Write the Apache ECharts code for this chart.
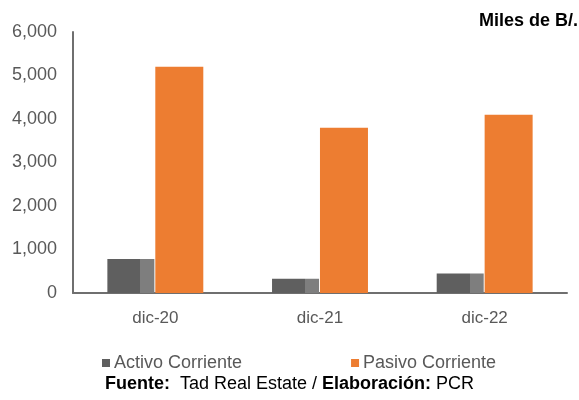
<!DOCTYPE html>
<html><head><meta charset="utf-8">
<script src="https://cdn.jsdelivr.net/npm/echarts@6/dist/echarts.min.js"></script>
<style>html,body{margin:0;padding:0;background:#fff}#c{width:579px;height:400px}</style>
</head><body><div id="c"></div>
<script>
const categories = ['dic-20', 'dic-21', 'dic-22'];
const activoCorriente = [780, 330, 450];
const pasivoCorriente = [5200, 3800, 4100];
const yTicks = [0, 1000, 2000, 3000, 4000, 5000, 6000];

const font = 'Liberation Sans, Arial, sans-serif';
const chart = echarts.init(document.getElementById('c'));
chart.setOption({
  animation: false,
  textStyle: { fontFamily: font },
  title: {
    text: 'Miles de B/.', right: 1, top: 12, padding: 0,
    textStyle: { fontSize: 18, fontWeight: 'bold', color: '#000', fontFamily: font }
  },
  grid: { left: 73, right: 12, top: 32, bottom: 107, containLabel: false },
  legend: {
    left: 97, top: 349, itemWidth: 8, itemHeight: 8, itemGap: 109,
    icon: 'rect',
    textStyle: { fontSize: 18, color: '#595959', fontFamily: font, padding: [0, 0, 0, -1] },
    data: [
      { name: 'Activo Corriente', itemStyle: { color: '#5f5f5f' } },
      { name: 'Pasivo Corriente', itemStyle: { color: '#ED7D31' } }
    ]
  },
  xAxis: {
    type: 'category', data: categories,
    axisLine: { lineStyle: { color: '#6f6f6f', width: 2 } },
    axisTick: { show: false },
    axisLabel: { fontSize: 17, color: '#595959', margin: 17, fontFamily: font }
  },
  yAxis: {
    type: 'value', min: yTicks[0], max: yTicks[yTicks.length - 1], interval: 1000,
    axisLine: { show: true, lineStyle: { color: '#6f6f6f', width: 2 } },
    axisTick: { show: false },
    splitLine: { show: false },
    axisLabel: {
      fontSize: 18, color: '#595959', margin: 16, fontFamily: font,
      formatter: v => v.toLocaleString('en-US')
    }
  },
  series: [
    {
      name: 'Activo Corriente', type: 'bar', data: activoCorriente,
      barWidth: 47, barGap: '2%',
      itemStyle: {
        color: new echarts.graphic.LinearGradient(0, 0, 1, 0, [
          { offset: 0, color: '#5f5f5f' },
          { offset: 0.7, color: '#5f5f5f' },
          { offset: 0.7, color: '#7e7e7e' },
          { offset: 1, color: '#7e7e7e' }
        ])
      }
    },
    {
      name: 'Pasivo Corriente', type: 'bar', data: pasivoCorriente,
      barWidth: 48,
      itemStyle: { color: '#ED7D31' }
    }
  ],
  graphic: [{
    type: 'text', left: 'center', top: 375,
    style: {
      text: '{b|Fuente:}  Tad Real Estate / {b|Elaboración:} PCR',
      font: '18px ' + font, fill: '#000',
      rich: { b: { fontWeight: 'bold', fontSize: 18, fontFamily: font, fill: '#000' } }
    }
  }]
});
</script></body></html>
